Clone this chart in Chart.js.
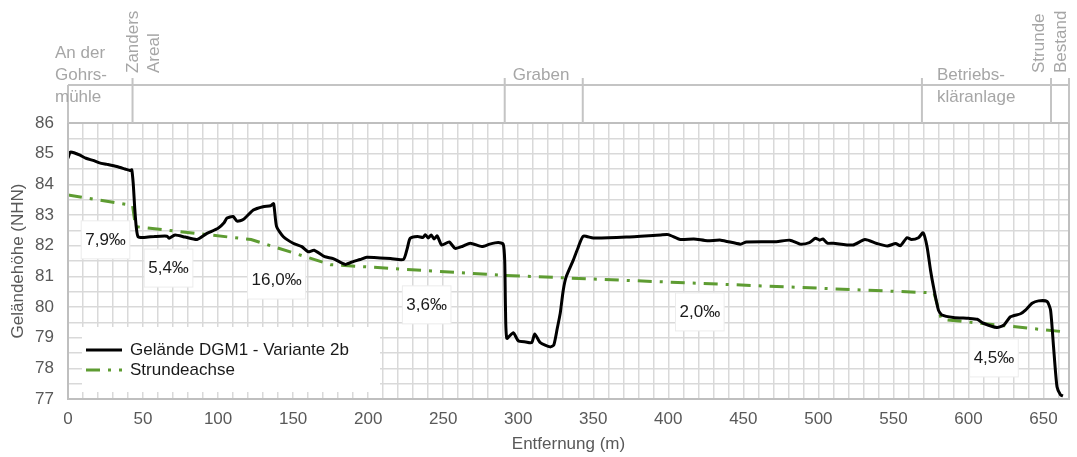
<!DOCTYPE html>
<html>
<head>
<meta charset="utf-8">
<script src="https://cdn.jsdelivr.net/npm/chart.js@4/dist/chart.umd.min.js"></script>
<style>
  body { margin: 0; background: #fff; }
  #wrap { width: 1077px; height: 457px; }
</style>
</head>
<body>
<div id="wrap"><canvas id="myChart" width="1077" height="457"></canvas></div>
<script>
// Gelaendeprofil DGM1 (Entfernung m / Hoehe m NHN)
var distDGM = [0, 1.5, 4, 8, 12, 16.7, 21, 26, 32.5, 38, 41.3, 42.5, 43.5, 44.5, 45.5, 46.7, 50.7, 58, 66, 67.3,
  71.3, 78, 86, 92.6, 100, 104, 106, 110, 112.7, 116.7, 123.5, 130, 135, 137, 139, 143.5, 150, 155.8, 160, 164,
  171, 176.7, 184.7, 190, 194.7, 199, 208, 215, 223.5, 226, 228, 233, 236.7, 238, 240, 242, 244, 246, 249, 254,
  258, 263, 268, 275.8, 281, 286.7, 290, 291, 291.5, 292.4, 296.7, 300, 305, 309, 311, 314.7, 321.3, 323.7, 326, 328,
  330, 332, 336.7, 340, 343.3, 350, 372, 395, 400, 408, 417, 426, 435, 448, 452, 472, 481, 488, 494, 498,
  501, 503, 506, 510, 523, 531, 539, 546, 551.5, 554.7, 559, 562, 566.7, 569.8, 572.4, 574.7, 576.7, 580, 582.4, 590,
  600, 605.8, 610, 619, 623.6, 628, 634.7, 638, 642.4, 646.7, 652.4, 654.7, 656.7, 659, 661.4, 663];
var hoeheDGM = [84.85, 85.05, 85.03, 84.95, 84.85, 84.78, 84.7, 84.65, 84.58, 84.5, 84.45, 84.47, 84.0, 83.2, 82.6, 82.29, 82.27, 82.3, 82.31, 82.24,
  82.35, 82.28, 82.2, 82.4, 82.57, 82.75, 82.9, 82.95, 82.8, 82.85, 83.16, 83.27, 83.3, 83.37, 82.62, 82.29, 82.08, 81.97, 81.8, 81.85,
  81.64, 81.58, 81.39, 81.48, 81.55, 81.62, 81.6, 81.58, 81.55, 81.9, 82.24, 82.3, 82.27, 82.36, 82.25, 82.35, 82.22, 82.32, 82.02, 82.12,
  81.91, 81.98, 82.08, 81.97, 82.05, 82.1, 82.05, 81.5, 80.0, 78.98, 79.16, 78.9, 78.86, 78.84, 79.12, 78.84, 78.7, 78.76, 79.3, 79.8,
  80.55, 80.99, 81.53, 81.95, 82.31, 82.25, 82.28, 82.35, 82.36, 82.2, 82.22, 82.16, 82.18, 82.05, 82.12, 82.13, 82.18, 82.05, 82.1, 82.24,
  82.18, 82.22, 82.08, 82.08, 82.02, 82.2, 82.07, 81.99, 82.07, 82.0, 82.26, 82.2, 82.26, 82.42, 81.97, 81.21, 80.66, 79.9, 79.74, 79.66,
  79.63, 79.6, 79.47, 79.33, 79.41, 79.68, 79.78, 79.9, 80.12, 80.2, 80.18, 79.9, 78.7, 77.4, 77.13, 77.1];

// Strundeachse
var distAchse = [0, 43, 45, 122, 175, 291, 577, 582, 662];
var hoeheAchse = [83.65, 83.31, 82.62, 82.2, 81.38, 81.03, 80.46, 79.6, 79.2];

// Gefaelle-Beschriftungen
var gefaelleText = ['7,9‰', '5,4‰', '16,0‰', '3,6‰', '2,0‰', '4,5‰'];
var gefaelleX = [25, 67, 139, 239, 421, 617];
var gefaelleY = [82.19, 81.27, 80.88, 80.07, 79.84, 78.34];

// Abschnitte oben
var abschnittGrenzen = [0, 43, 291, 343, 569, 655, 667];

var yTicks = [77, 77.5, 78, 78.5, 79, 79.5, 80, 80.5, 81, 81.5, 82, 82.5, 83, 83.5, 84, 84.5, 85, 85.5, 86];
var xMax = 667;

var GREEN = '#5e9c32';
var DASH = [14, 8, 3, 8];

function punkte(xs, ys) {
  var out = [];
  for (var i = 0; i < xs.length; i++) out.push({x: xs[i], y: ys[i]});
  return out;
}

var extras = {
  id: 'extras',
  afterDraw: function(chart) {
    var ctx = chart.ctx;
    var xs = chart.scales.x, ys = chart.scales.y;
    var a = chart.chartArea;
    ctx.save();

    // Rahmen
    ctx.strokeStyle = '#bfbfbf';
    ctx.lineWidth = 2;
    ctx.strokeRect(a.left, a.top, a.right - a.left, a.bottom - a.top);

    // Abschnittsband oben
    ctx.strokeStyle = '#c4c4c4';
    ctx.lineWidth = 2;
    ctx.beginPath();
    ctx.moveTo(a.left, 85);
    ctx.lineTo(a.right, 85);
    abschnittGrenzen.forEach(function(v, i) {
      var px = xs.getPixelForValue(v);
      ctx.moveTo(px, i === 0 ? 85 : 78);
      ctx.lineTo(px, a.top);
    });
    ctx.stroke();

    ctx.fillStyle = '#a6a6a6';
    ctx.font = '17px "Liberation Sans", Arial, sans-serif';
    ctx.textBaseline = 'middle';
    ctx.textAlign = 'left';
    var p0 = xs.getPixelForValue(abschnittGrenzen[0]);
    ctx.fillText('An der', p0 - 13, 53);
    ctx.fillText('Gohrs-', p0 - 13, 75);
    ctx.fillText('mühle', p0 - 13, 97);
    ctx.fillText('Graben', xs.getPixelForValue(abschnittGrenzen[2]) + 8, 75);
    var p4 = xs.getPixelForValue(abschnittGrenzen[4]);
    ctx.fillText('Betriebs-', p4 + 15, 75);
    ctx.fillText('kläranlage', p4 + 15, 97);

    function senkrecht(txt, x, y) {
      ctx.save();
      ctx.translate(x, y);
      ctx.rotate(-Math.PI / 2);
      ctx.fillText(txt, 0, 0);
      ctx.restore();
    }
    var p1 = xs.getPixelForValue(abschnittGrenzen[1]);
    senkrecht('Zanders', p1 + 1, 73);
    senkrecht('Areal', p1 + 22, 73);
    var p5 = xs.getPixelForValue(abschnittGrenzen[5]);
    senkrecht('Strunde', p5 - 12, 73);
    senkrecht('Bestand', p5 + 10, 73);

    // Gefaelle-Beschriftungen
    ctx.font = '17px "Liberation Sans", Arial, sans-serif';
    ctx.textAlign = 'center';
    gefaelleText.forEach(function(t, i) {
      var cx = xs.getPixelForValue(gefaelleX[i]);
      var cy = ys.getPixelForValue(gefaelleY[i]);
      var w = ctx.measureText(t).width + 8;
      ctx.fillStyle = '#ffffff';
      ctx.fillRect(cx - w / 2, cy - 19, w, 38);
      ctx.strokeStyle = '#ececec';
      ctx.lineWidth = 1;
      ctx.strokeRect(cx - w / 2, cy - 19, w, 38);
      ctx.fillStyle = '#1a1a1a';
      ctx.fillText(t, cx, cy);
    });

    // Legende
    ctx.fillStyle = '#ffffff';
    ctx.fillRect(82, 327, 298, 65);
    ctx.textAlign = 'left';
    ctx.lineWidth = 3;
    chart.data.datasets.forEach(function(ds, i) {
      var ly = 350 + i * 20;
      ctx.strokeStyle = ds.borderColor;
      ctx.setLineDash(ds.borderDash || []);
      ctx.beginPath();
      ctx.moveTo(86, ly);
      ctx.lineTo(122, ly);
      ctx.stroke();
      ctx.setLineDash([]);
      ctx.fillStyle = '#1a1a1a';
      ctx.fillText(ds.label, 130, ly);
    });
    ctx.restore();
  }
};

var ctx = document.getElementById('myChart');
var myChart = new Chart(ctx, {
  type: 'line',
  data: {
    datasets: [{
      label: 'Gelände DGM1 - Variante 2b',
      data: punkte(distDGM, hoeheDGM),
      borderColor: '#000000',
      borderWidth: 3,
      pointRadius: 0,
      tension: 0.2,
      fill: false
    }, {
      label: 'Strundeachse',
      data: punkte(distAchse, hoeheAchse),
      borderColor: GREEN,
      borderWidth: 3,
      borderDash: DASH,
      pointRadius: 0,
      tension: 0,
      fill: false
    }]
  },
  options: {
    responsive: false,
    animation: false,
    layout: { padding: { top: 123, right: 8, left: 0, bottom: 0 } },
    plugins: {
      legend: { display: false },
      tooltip: { enabled: false }
    },
    scales: {
      x: {
        type: 'linear',
        min: 0,
        max: xMax,
        afterFit: function(s) { s.height = 58; },
        afterBuildTicks: function(s) {
          var t = [];
          for (var v = 0; v <= 660; v += 10) t.push({value: v});
          s.ticks = t;
        },
        grid: { color: '#d9d9d9', lineWidth: 1.5, drawTicks: false },
        border: { display: false },
        ticks: {
          color: '#595959',
          font: { size: 17, family: '"Liberation Sans", Arial, sans-serif' },
          padding: 10,
          maxRotation: 0,
          autoSkip: false,
          callback: function(v) { return v % 50 === 0 ? String(v) : ''; }
        },
        title: {
          display: true,
          text: 'Entfernung (m)',
          color: '#595959',
          font: { size: 17, family: '"Liberation Sans", Arial, sans-serif' },
          padding: { top: 2, bottom: 2 }
        }
      },
      y: {
        min: 77,
        max: 86,
        afterFit: function(s) { s.width = 68; },
        afterBuildTicks: function(s) {
          s.ticks = yTicks.map(function(v) { return {value: v}; });
        },
        grid: { color: '#d9d9d9', lineWidth: 1.5, drawTicks: false },
        border: { display: false },
        ticks: {
          color: '#595959',
          font: { size: 17, family: '"Liberation Sans", Arial, sans-serif' },
          padding: 14,
          autoSkip: false,
          callback: function(v) { return v % 1 === 0 ? String(v) : ''; }
        },
        title: {
          display: true,
          text: 'Geländehöhe (NHN)',
          color: '#595959',
          font: { size: 17, family: '"Liberation Sans", Arial, sans-serif' },
          padding: { top: 8, bottom: 2 }
        }
      }
    }
  },
  plugins: [extras]
});
</script>
</body>
</html>
